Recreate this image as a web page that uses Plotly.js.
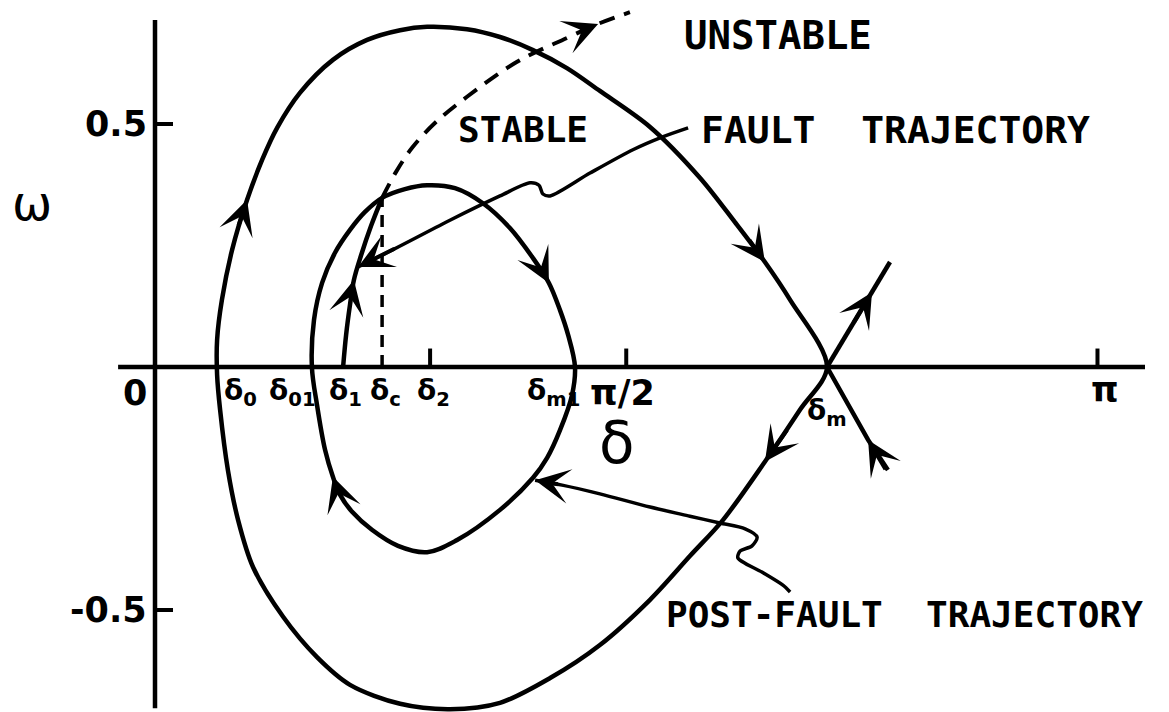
<!DOCTYPE html>
<html>
<head>
<meta charset="utf-8">
<script src="https://cdn.plot.ly/plotly-3.0.1.min.js"></script>
<style>
  html, body { margin: 0; padding: 0; background: #fff; }
  #plot { width: 1169px; height: 712px; }
</style>
</head>
<body>
<div id="plot"></div>
<script>
// Phase plane of the swing equation: load angle delta (rad) vs. speed deviation omega.

// Separatrix loop through the saddle point delta_m
// (traced from delta_m over the top, down the left side, along the bottom, back to delta_m)
const sepDelta = [2.240, 2.117, 2.033, 1.933, 1.817, 1.650, 1.483, 1.373, 1.260, 1.150,
                  1.040, 0.907, 0.817, 0.707, 0.593, 0.483, 0.407, 0.357, 0.307, 0.257, 0.223,
                  0.207, 0.207, 0.217, 0.243, 0.277, 0.327, 0.427, 0.540, 0.650, 0.817, 0.983,
                  1.150, 1.317, 1.483, 1.650, 1.783, 1.893, 2.033, 2.150, 2.240];
const sepOmega = [0, 0.138, 0.216, 0.298, 0.389, 0.494, 0.568, 0.615, 0.652, 0.679,
                  0.695, 0.700, 0.693, 0.673, 0.632, 0.564, 0.492, 0.426, 0.344, 0.241, 0.138,
                  0.056, -0.016, -0.088, -0.212, -0.315, -0.412, -0.514, -0.597, -0.654, -0.693, -0.704,
                  -0.691, -0.640, -0.572, -0.479, -0.389, -0.315, -0.195, -0.088, 0];

// Post-fault trajectory (closed orbit between delta_01 and delta_m1)
const postDelta = [0.523, 0.530, 0.557, 0.600, 0.650, 0.700, 0.757, 0.833, 0.907, 1.000, 1.093,
                   1.183, 1.260, 1.313, 1.350, 1.377, 1.400, 1.390, 1.350, 1.307, 1.260, 1.150,
                   1.007, 0.907, 0.810, 0.723, 0.657, 0.617, 0.593, 0.567, 0.540, 0.523];
const postOmega = [0, 0.097, 0.173, 0.235, 0.282, 0.319, 0.348, 0.366, 0.374, 0.368, 0.337,
                   0.286, 0.224, 0.173, 0.117, 0.066, 0, -0.058, -0.130, -0.187, -0.228, -0.294,
                   -0.356, -0.381, -0.368, -0.335, -0.298, -0.263, -0.226, -0.171, -0.078, 0];

// Fault trajectory from delta_1 up to clearing at delta_c
const faultDelta = [0.627, 0.637, 0.650, 0.663, 0.687, 0.720, 0.757];
const faultOmega = [0, 0.066, 0.128, 0.179, 0.230, 0.290, 0.348];

// Fault trajectory continued without clearing (unstable)
const unstDelta = [0.757, 0.803, 0.857, 0.933, 1.040, 1.207, 1.373, 1.477, 1.583];
const unstOmega = [0.348, 0.401, 0.451, 0.502, 0.556, 0.628, 0.677, 0.706, 0.730];

// Clearing angle marker
const clearDelta = [0.757, 0.757];
const clearOmega = [0, 0.348];

// Saddle branches beyond delta_m
const outDelta = [2.240, 2.390, 2.450];
const outOmega = [0, 0.154, 0.216];
const inDelta = [2.443, 2.377, 2.240];
const inOmega = [-0.212, -0.150, 0];

// Label pointers
const faultLeadDelta = [1.777, 1.690, 1.593, 1.450, 1.317, 1.293, 1.280, 1.250, 1.150, 0.983, 0.817, 0.677];
const faultLeadOmega = [0.492, 0.473, 0.447, 0.399, 0.352, 0.356, 0.374, 0.379, 0.352, 0.302, 0.249, 0.206];
const postLeadDelta = [1.267, 1.357, 1.483, 1.650, 1.783, 1.883, 1.967, 2.007, 1.990, 1.950, 1.943, 2.023, 2.093, 2.117];
const postLeadOmega = [-0.233, -0.243, -0.261, -0.288, -0.307, -0.321, -0.333, -0.350, -0.368, -0.379, -0.393, -0.422, -0.449, -0.463];

// Axes extents and ticks
const axisDelta = [-0.123, 3.30];
const axisOmega = [-0.702, 0.714];
const omegaTicks = [0.5, -0.5];
const omegaTickLabels = ['0.5', '-0.5'];
const deltaTicks = [0.917, Math.PI / 2, Math.PI];

// Angle labels along the delta axis
const deltaLabelText = ['0', 'δ<sub>0</sub>', 'δ<sub>01</sub>', 'δ<sub>1</sub>', 'δ<sub>c</sub>',
                        'δ<sub>2</sub>', 'δ<sub>m1</sub>', 'π/2', 'δ<sub>m</sub>', 'π'];
const deltaLabelAt = [0, 0.207, 0.523, 0.627, 0.757, 0.917, 1.400, Math.PI / 2, 2.240, Math.PI];

// ---- styling ----
const INK = '#000';
const CURVE_W = 4.5;
const LEAD_W = 3.5;
const labelShift = [-20, 23, -19, 2, 3, 3, -22, -4, 0, 8];
const labelDrop = [-0.053, -0.053, -0.053, -0.053, -0.053, -0.053, -0.053, -0.053, -0.093, -0.047];

function line(x, y, width, dash, smooth) {
  return {
    type: 'scatter', mode: 'lines', x: x, y: y, hoverinfo: 'skip',
    line: { color: INK, width: width, dash: dash || 'solid', shape: smooth ? 'spline' : 'linear', smoothing: smooth || 0 }
  };
}

// short tick segments built from the tick values
const tx = [], ty = [];
deltaTicks.forEach(t => { tx.push(t, t, null); ty.push(0, 0.038, null); });
omegaTicks.forEach(t => { tx.push(0, 0.06, null); ty.push(t, t, null); });

const data = [
  line(axisDelta, [0, 0], 4.5),
  line([0, 0], axisOmega, 4.5),
  line(tx, ty, 4),
  line(sepDelta, sepOmega, CURVE_W, null, 0.9),
  line(postDelta, postOmega, CURVE_W, null, 1),
  line(faultDelta, faultOmega, CURVE_W, null, 1),
  line(unstDelta, unstOmega, 4, '16px,10px', 1),
  line(clearDelta, clearOmega, 3.5, '12px,8px'),
  line(outDelta, outOmega, CURVE_W),
  line(inDelta, inOmega, CURVE_W),
  line(faultLeadDelta, faultLeadOmega, LEAD_W, null, 0.8),
  line(postLeadDelta, postLeadOmega, LEAD_W, null, 0.8)
];

// arrowheads on the curves at point i, pointing along the direction of motion
// (dir = +1 follows the array order, -1 runs against it)
function arrow(xs, ys, i, dir) {
  const n = xs.length;
  const a = Math.max(0, Math.min(n - 1, i - dir));
  const b = Math.max(0, Math.min(n - 1, i + dir));
  const oneSided = (a === i || b === i);
  const f = oneSided ? 0.9 : 0.3;
  return {
    xref: 'x', yref: 'y', axref: 'x', ayref: 'y',
    x: xs[i], y: ys[i],
    ax: xs[i] - f * (xs[b] - xs[a]), ay: ys[i] - f * (ys[b] - ys[a]),
    text: '', showarrow: true, arrowhead: 3, arrowsize: 1.45, arrowwidth: 4,
    arrowcolor: INK, standoff: 0
  };
}

const annotations = [
  arrow(sepDelta, sepOmega, 2, -1),
  arrow(sepDelta, sepOmega, 18, -1),
  arrow(sepDelta, sepOmega, 38, -1),
  arrow(postDelta, postOmega, 13, 1),
  arrow(postDelta, postOmega, 28, 1),
  arrow(faultDelta, faultOmega, 3, 1),
  arrow(unstDelta, unstOmega, 7, 1),
  arrow(outDelta, outOmega, 1, 1),
  arrow(inDelta, inOmega, 1, 1),
  arrow(faultLeadDelta, faultLeadOmega, faultLeadDelta.length - 1, 1),
  arrow(postLeadDelta, postLeadOmega, 0, -1)
];

const numFont = { family: 'DejaVu Sans, sans-serif', size: 35, color: INK, weight: 'bold' };
const greekFont = { family: 'DejaVu Sans, sans-serif', size: 28, color: INK, weight: 'bold' };

omegaTicks.forEach((t, k) => annotations.push({
  xref: 'x', yref: 'y', x: 0, y: t, text: omegaTickLabels[k], showarrow: false,
  xanchor: 'right', yanchor: 'middle', xshift: -6, font: numFont
}));

deltaLabelText.forEach((s, k) => annotations.push({
  xref: 'x', yref: 'y', x: deltaLabelAt[k], y: labelDrop[k], text: s, showarrow: false,
  xanchor: 'center', yanchor: 'middle', xshift: labelShift[k],
  font: (k === 0 || k === 7 || k === 9) ? numFont : greekFont
}));

const words = [
  { text: 'UNSTABLE', x: 2.077, y: 0.683, size: 39 },
  { text: 'STABLE', x: 1.227, y: 0.488, size: 36 },
  { text: 'FAULT  TRAJECTORY', x: 2.467, y: 0.488, size: 38 },
  { text: 'POST-FAULT  TRAJECTORY', x: 2.497, y: -0.510, size: 36 }
];
words.forEach(w => annotations.push({
  xref: 'x', yref: 'y', x: w.x, y: w.y, text: w.text, showarrow: false,
  xanchor: 'center', yanchor: 'middle',
  font: { family: 'DejaVu Sans Mono, monospace', size: w.size, color: INK, weight: 'bold' }
}));

// axis names
annotations.push({
  xref: 'x', yref: 'y', x: -0.410, y: 0.337, text: 'ω', showarrow: false,
  xanchor: 'center', yanchor: 'middle',
  font: { family: 'DejaVu Sans, sans-serif', size: 48, color: INK }
});
annotations.push({
  xref: 'x', yref: 'y', x: 1.540, y: -0.156, text: 'δ', showarrow: false,
  xanchor: 'center', yanchor: 'middle',
  font: { family: 'DejaVu Sans, sans-serif', size: 58, color: INK }
});

const layout = {
  width: 1169, height: 712,
  margin: { l: 0, r: 0, t: 0, b: 0 },
  paper_bgcolor: '#fff', plot_bgcolor: '#fff',
  showlegend: false,
  xaxis: { range: [-155 / 300, 1014 / 300], visible: false, fixedrange: true },
  yaxis: { range: [-345 / 486, 367 / 486], visible: false, fixedrange: true },
  annotations: annotations
};

Plotly.newPlot('plot', data, layout, { staticPlot: true, displayModeBar: false });
</script>
</body>
</html>
